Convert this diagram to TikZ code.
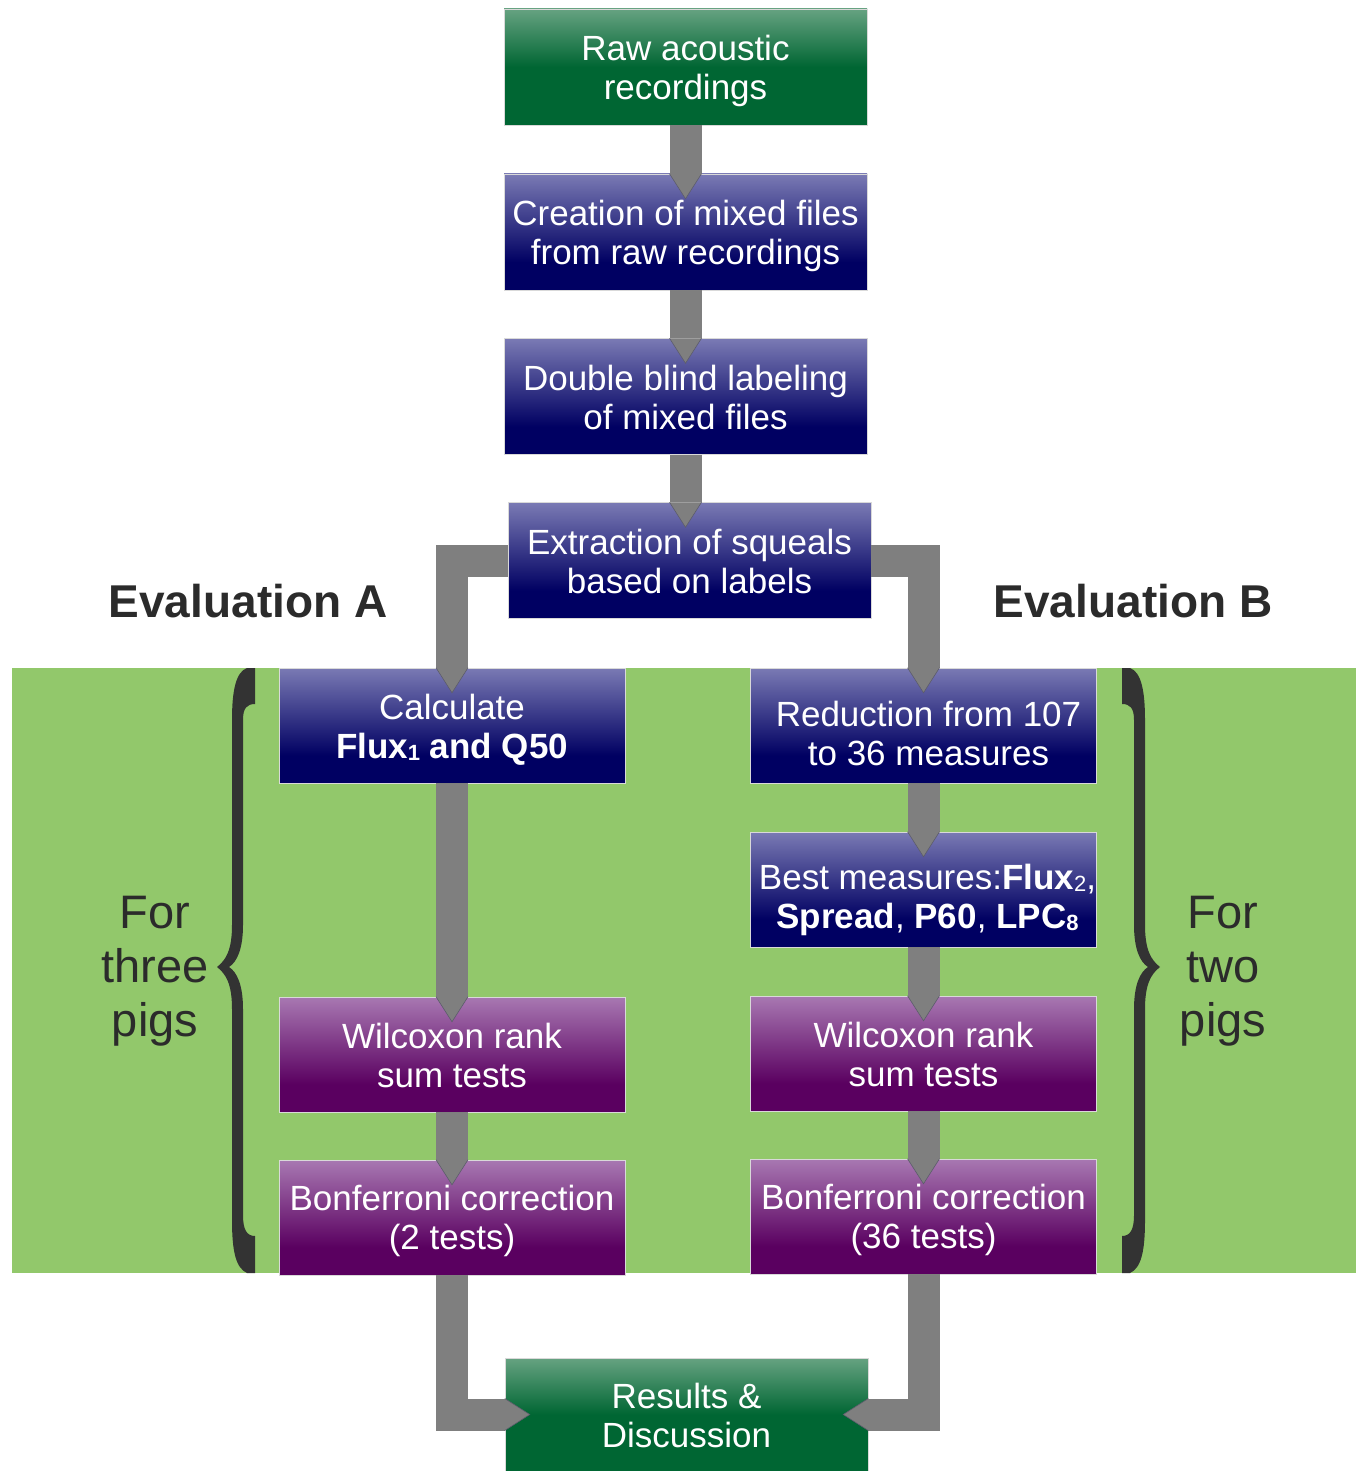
\documentclass[tikz,border=0pt]{standalone}
\usepackage{fontspec}
\setmainfont{Liberation Sans}
\usetikzlibrary{calc}
\definecolor{grnL}{HTML}{66A281}
\definecolor{grnD}{HTML}{006633}
\definecolor{bluL}{HTML}{7A7AB4}
\definecolor{bluD}{HTML}{000062}
\definecolor{purL}{HTML}{A878B2}
\definecolor{purD}{HTML}{5A0060}
\definecolor{band}{HTML}{92C86B}
\definecolor{pipec}{HTML}{7F7F7F}
\definecolor{tipline}{HTML}{5C5C6C}
\definecolor{darktxt}{HTML}{2B2B2B}
\definecolor{bracec}{HTML}{333333}
\pgfdeclareverticalshading{shgreen}{100bp}{color(0bp)=(grnD); color(25bp)=(grnD); color(50bp)=(grnD); color(75bp)=(grnL); color(100bp)=(grnL)}
\pgfdeclareverticalshading{shblue}{100bp}{color(0bp)=(bluD); color(25bp)=(bluD); color(37bp)=(bluD); color(75bp)=(bluL); color(100bp)=(bluL)}
\pgfdeclareverticalshading{shpurple}{100bp}{color(0bp)=(purD); color(25bp)=(purD); color(37bp)=(purD); color(75bp)=(purL); color(100bp)=(purL)}
\newcommand\ta{\rule{0pt}{33pt}}
\newcommand\tc{\rule{0pt}{47pt}}
\newcommand\tb{\rule[-6pt]{0pt}{6pt}}
\newcommand\sbs[1]{\raisebox{-2pt}{\fontsize{22}{22}\selectfont #1}}
\newcommand\tipd[1]{\filldraw[tipsty] ($(#1)+(-16,0)$) -- ($(#1)+(0,25)$) -- ($(#1)+(16,0)$);}
\newcommand\tipr[1]{\filldraw[tipsty] ($(#1)+(0,-16)$) -- ($(#1)+(25,0)$) -- ($(#1)+(0,16)$);}
\newcommand\tipl[1]{\filldraw[tipsty] ($(#1)+(0,-16)$) -- ($(#1)+(-25,0)$) -- ($(#1)+(0,16)$);}
\newcommand\bracepath{(255,668) -- (247,668) .. controls (236,672) and (232,690) .. (232,720) -- (232,925) .. controls (232,950) and (226,960) .. (217,967) .. controls (226,974) and (232,984) .. (232,1009) -- (232,1220) .. controls (232,1252) and (236,1268) .. (247,1273) -- (255,1273) -- (255,1236) .. controls (247,1236) and (243,1230) .. (243,1215) -- (243,1009) .. controls (243,985) and (237,972) .. (229,967) .. controls (237,962) and (243,949) .. (243,925) -- (243,720) .. controls (243,708) and (247,704) .. (255,704) -- cycle}
\begin{document}
\begin{tikzpicture}[x=1pt,y=-1pt,
  box/.style={rectangle, inner sep=0pt, text=white, align=center,
    font=\fontsize{35}{39}\selectfont, draw=white!70!gray, line width=0.5pt, shade},
  cbox/.style={box, minimum width=363pt, minimum height=116pt},
  sbox/.style={box, minimum width=346pt, minimum height=115pt},
  gbox/.style={shading=shgreen},
  bbox/.style={shading=shblue},
  pbox/.style={shading=shpurple},
  pipe/.style={draw=pipec, line width=32pt, line join=miter, line cap=butt},
  tipsty/.style={fill=pipec, draw=tipline, line width=0.6pt, line join=miter},
  evallabel/.style={text=darktxt, font=\fontsize{46}{52}\selectfont\bfseries},
  piglabel/.style={text=darktxt, font=\fontsize{47}{54}\selectfont, align=center, inner sep=0pt}
]
\useasboundingbox (0,0) rectangle (1359,1471);
\fill[white] (0,0) rectangle (1359,1471);
% green band
\fill[band] (12,668) rectangle (1356,1273);
% braces
\fill[bracec] \bracepath;
\begin{scope}[shift={(1377,0)}, xscale=-1]
\fill[bracec] \bracepath;
\end{scope}
% nodes
\node[cbox, gbox] (raw) at (685.5,67) {\ta Raw acoustic\\recordings\tb};
\node[cbox, bbox] (cre) at (685.5,232) {\ta Creation of mixed files\\from raw recordings\tb};
\node[cbox, bbox] (dbl) at (685.5,396.5) {\ta Double blind labeling\\of mixed files\tb};
\node[cbox, bbox] (ext) at (689.5,560.5) {\ta Extraction of squeals\\based on labels\tb};
\node[sbox, bbox] (calc) at (452,725.5) {\ta Calculate\\\textbf{Flux\sbs{1} and Q50}\tb};
\node[sbox, pbox] (wl) at (452,1054.5) {\ta Wilcoxon rank\\sum tests\tb};
\node[sbox, pbox] (bl) at (452,1217.5) {\ta Bonferroni correction\\(2 tests)\tb};
\node[sbox, bbox] (red) at (923.5,725.5) {\tc\hspace*{10pt}Reduction from 107\\\hspace*{10pt}to 36 measures\tb};
\node[sbox, bbox] (best) at (923.5,889.5) {\tc\hspace*{8pt}Best measures:\textbf{Flux}\sbs{2},\\\hspace*{8pt}\textbf{Spread}, \textbf{P60}, \textbf{LPC\sbs{8}}\tb};
\node[sbox, pbox] (wr) at (923.5,1053.5) {\ta Wilcoxon rank\\sum tests\tb};
\node[sbox, pbox] (br) at (923.5,1216.5) {\ta Bonferroni correction\\(36 tests)\tb};
\node[box, gbox, minimum width=363pt, minimum height=113pt] (res) at (686.5,1414.5) {\ta Results \&\\Discussion\tb};
% labels
\node[evallabel] (evA) at (248,601) {Evaluation A};
\node[evallabel] (evB) at (1133,601) {Evaluation B};
\node[piglabel] (pA) at (155,967) {\rule{0pt}{40pt}For\\three\\pigs\rule[-8pt]{0pt}{8pt}};
\node[piglabel] (pB) at (1223,967) {\rule{0pt}{40pt}For\\two\\pigs\rule[-8pt]{0pt}{8pt}};
% pipes
\draw[pipe] (raw.south) -- (cre.north);
\draw[pipe] (cre.south) -- (dbl.north);
\draw[pipe] (dbl.south) -- (dbl.south |- ext.north);
\draw[pipe] (ext.west) -| (calc.north);
\draw[pipe] (ext.east) -| (red.north);
\draw[pipe] (calc.south) -- (wl.north);
\draw[pipe] (wl.south) -- (bl.north);
\draw[pipe] (red.south) -- (best.north);
\draw[pipe] (best.south) -- (wr.north);
\draw[pipe] (wr.south) -- (br.north);
\draw[pipe] (bl.south) |- (res.west);
\draw[pipe] (br.south) |- (res.east);
% tips
\tipd{cre.north}
\tipd{dbl.north}
\tipd{dbl.south |- ext.north}
\tipd{calc.north}
\tipd{red.north}
\tipd{wl.north}
\tipd{bl.north}
\tipd{best.north}
\tipd{wr.north}
\tipd{br.north}
\tipr{res.west}
\tipl{res.east}
\end{tikzpicture}
\end{document}
